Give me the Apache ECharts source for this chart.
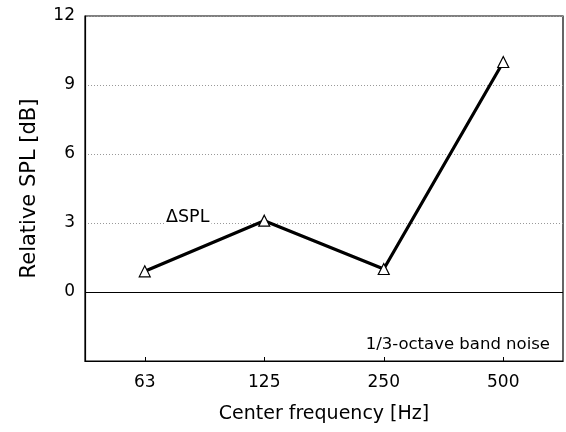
<!DOCTYPE html>
<html>
<head>
<meta charset="UTF-8">
<script src="https://cdn.jsdelivr.net/npm/echarts@6/dist/echarts.min.js"></script>
<style>
html, body { margin: 0; padding: 0; background: #fff; }
#chart { width: 566px; height: 432px; }
</style>
</head>
<body>
<div id="chart"></div>
<script>
// data
const freqs = ['63', '125', '250', '500'];
const deltaSpl = [0.9, 3.1, 1.0, 10.0];
const yTicks = [0, 3, 6, 9, 12];

const FONT = '"DejaVu Sans", sans-serif';

const chart = echarts.init(document.getElementById('chart'));

chart.setOption({
    animation: false,
    backgroundColor: '#fff',
    grid: {
        left: 85, right: 3, top: 16, bottom: 71,
        show: true, borderColor: '#000', borderWidth: 1.2
    },
    xAxis: {
        type: 'category',
        data: freqs,
        boundaryGap: true,
        name: 'Center frequency [Hz]',
        nameLocation: 'middle',
        nameGap: 44,
        nameTextStyle: { fontFamily: FONT, fontSize: 19, color: '#000' },
        axisLine: { onZero: false, lineStyle: { color: '#000', width: 1.2 } },
        axisTick: { show: true, alignWithLabel: true, inside: true, length: 4, lineStyle: { color: '#000' } },
        axisLabel: { fontFamily: FONT, fontSize: 17, color: '#000', margin: 13 },
        splitLine: { show: false }
    },
    yAxis: {
        type: 'value',
        min: -3, max: 12, interval: 3,
        name: 'Relative SPL [dB]',
        nameLocation: 'middle',
        nameGap: 45,
        nameTextStyle: { fontFamily: FONT, fontSize: 21, color: '#000' },
        axisLine: { show: true, lineStyle: { color: '#000', width: 1.2 } },
        axisTick: { show: false },
        axisLabel: {
            fontFamily: FONT, fontSize: 17, color: '#000', margin: 10,
            formatter: v => (yTicks.indexOf(v) >= 0 ? String(v) : '')
        },
        splitLine: {
            show: true,
            lineStyle: { color: '#999', type: [1, 2], width: 1 }
        }
    },
    series: [{
        type: 'line',
        data: deltaSpl,
        symbol: 'triangle',
        symbolSize: 11,
        showAllSymbol: true,
        lineStyle: { color: '#000', width: 3.2 },
        itemStyle: { color: '#fff', borderColor: '#000', borderWidth: 1.2 },
        z: 5,
        markLine: {
            silent: true,
            symbol: 'none',
            label: { show: false },
            lineStyle: { color: '#000', type: 'solid', width: 1.2 },
            data: [{ yAxis: 0 }]
        }
    }],
    graphic: [{
        type: 'text',
        left: 164, top: 208,
        style: {
            text: 'ΔSPL', font: '17.5px ' + FONT, fill: '#000',
            backgroundColor: '#fff', padding: [0, 2]
        },
        z: 10
    }, {
        type: 'text',
        right: 16, top: 336,
        style: { text: '1/3-octave band noise', font: '16.5px ' + FONT, fill: '#000' },
        z: 10
    }]
});
</script>
</body>
</html>
